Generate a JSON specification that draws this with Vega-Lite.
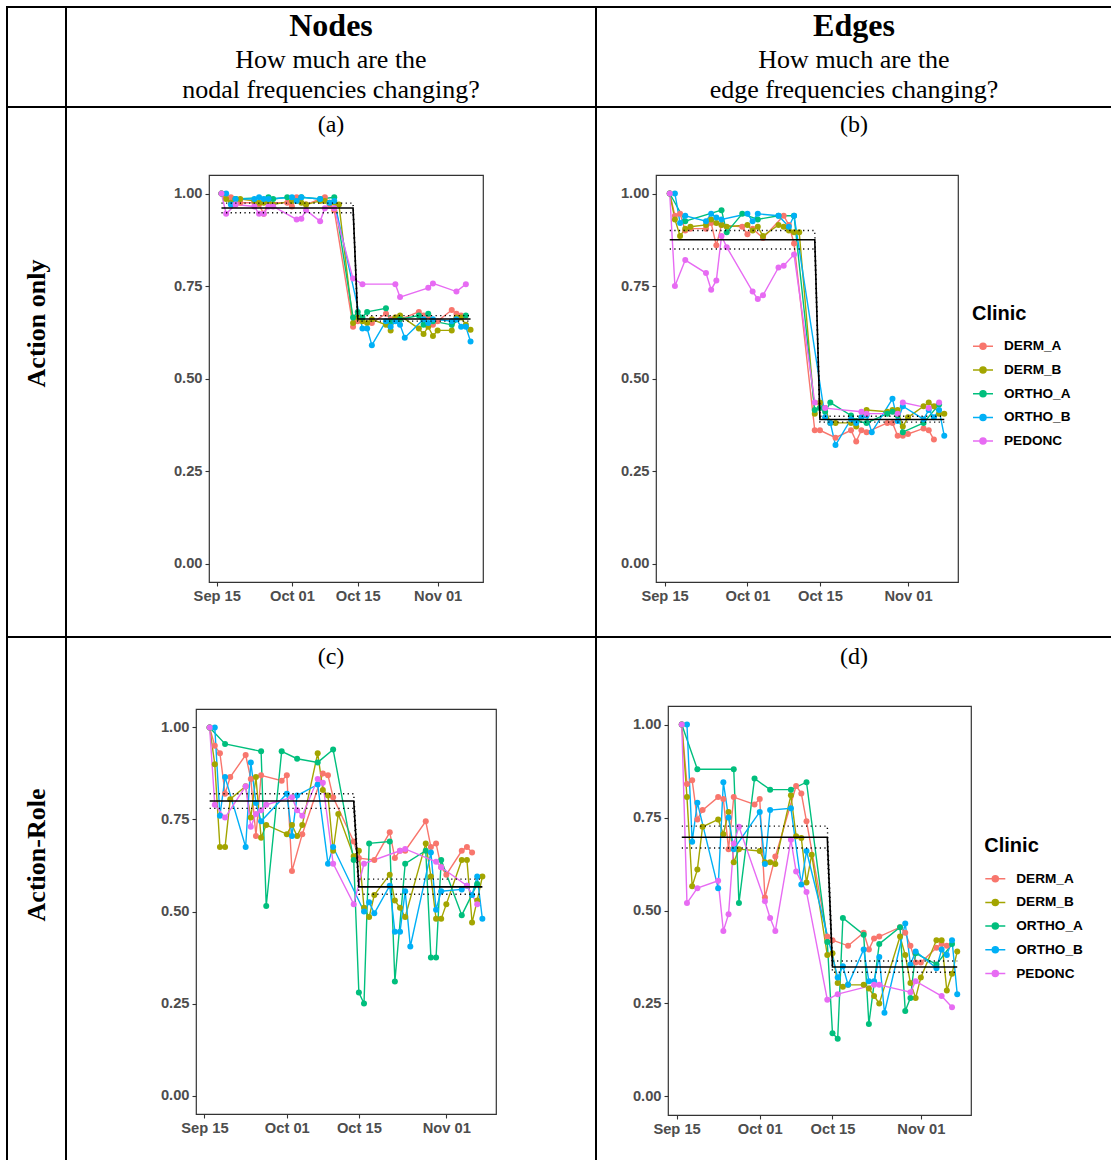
{
"$schema":"https://vega.github.io/schema/vega-lite/v6.json",
"padding":{"left":6,"top":6,"right":0,"bottom":0},
"background":"white",
"config":{"view":{"stroke":null},"concat":{"spacing":0},"font":"Liberation Sans",
 "axis":{"grid":false,"domain":false,"tickColor":"#333333","tickWidth":1.1,"tickSize":4,"labelFont":"Liberation Sans","labelFontSize":14.7,"labelFontWeight":"bold","labelColor":"#4d4d4d"},
 "axisX":{"labelPadding":2,"labelFlush":false,"labelOverlap":false},
 "axisY":{"labelPadding":3}},
"datasets":{
"obs":[
{"clinic":"DERM_A","date":"2019-09-16","nodeAct":1,"edgeAct":1,"nodeRole":1,"edgeRole":1},
{"clinic":"DERM_A","date":"2019-09-17","nodeAct":0.99,"edgeAct":0.94,"nodeRole":0.95,"edgeRole":0.84},
{"clinic":"DERM_A","date":"2019-09-18","nodeAct":0.99,"edgeAct":0.945,"nodeRole":0.93,"edgeRole":0.85},
{"clinic":"DERM_A","date":"2019-09-19","nodeAct":0.97,"edgeAct":0.9,"nodeRole":0.82,"edgeRole":0.745},
{"clinic":"DERM_A","date":"2019-09-20","nodeAct":0.975,"edgeAct":0.905,"nodeRole":0.865,"edgeRole":0.77},
{"clinic":"DERM_A","date":"2019-09-23","nodeAct":0.975,"edgeAct":0.905,"nodeRole":0.925,"edgeRole":0.805},
{"clinic":"DERM_A","date":"2019-09-24","nodeAct":0.97,"edgeAct":0.92,"nodeRole":0.86,"edgeRole":0.8},
{"clinic":"DERM_A","date":"2019-09-25","nodeAct":0.945,"edgeAct":0.86,"nodeRole":0.705,"edgeRole":0.665},
{"clinic":"DERM_A","date":"2019-09-26","nodeAct":0.975,"edgeAct":0.915,"nodeRole":0.87,"edgeRole":0.805},
{"clinic":"DERM_A","date":"2019-09-30","nodeAct":0.975,"edgeAct":0.91,"nodeRole":0.855,"edgeRole":0.785},
{"clinic":"DERM_A","date":"2019-10-01","nodeAct":0.965,"edgeAct":0.89,"nodeRole":0.87,"edgeRole":0.8},
{"clinic":"DERM_A","date":"2019-10-02","nodeAct":0.99,"edgeAct":0.905,"nodeRole":0.61,"edgeRole":0.535},
{"clinic":"DERM_A","date":"2019-10-04","nodeAct":0.97,"edgeAct":0.88,"nodeRole":0.71,"edgeRole":0.645},
{"clinic":"DERM_A","date":"2019-10-08","nodeAct":0.99,"edgeAct":0.94,"nodeRole":0.875,"edgeRole":0.835},
{"clinic":"DERM_A","date":"2019-10-09","nodeAct":0.97,"edgeAct":0.915,"nodeRole":0.87,"edgeRole":0.815},
{"clinic":"DERM_A","date":"2019-10-10","nodeAct":0.955,"edgeAct":0.865,"nodeRole":0.81,"edgeRole":0.74},
{"clinic":"DERM_A","date":"2019-10-14","nodeAct":0.64,"edgeAct":0.36,"nodeRole":0.69,"edgeRole":0.43},
{"clinic":"DERM_A","date":"2019-10-15","nodeAct":0.655,"edgeAct":0.36,"nodeRole":0.645,"edgeRole":0.42},
{"clinic":"DERM_A","date":"2019-10-18","nodeAct":0.65,"edgeAct":0.34,"nodeRole":0.64,"edgeRole":0.405},
{"clinic":"DERM_A","date":"2019-10-21","nodeAct":0.675,"edgeAct":0.36,"nodeRole":0.715,"edgeRole":0.44},
{"clinic":"DERM_A","date":"2019-10-22","nodeAct":0.66,"edgeAct":0.33,"nodeRole":0.645,"edgeRole":0.395},
{"clinic":"DERM_A","date":"2019-10-23","nodeAct":0.665,"edgeAct":0.36,"nodeRole":0.665,"edgeRole":0.425},
{"clinic":"DERM_A","date":"2019-10-24","nodeAct":0.66,"edgeAct":0.355,"nodeRole":0.665,"edgeRole":0.43},
{"clinic":"DERM_A","date":"2019-10-28","nodeAct":0.68,"edgeAct":0.38,"nodeRole":0.745,"edgeRole":0.455},
{"clinic":"DERM_A","date":"2019-10-29","nodeAct":0.67,"edgeAct":0.38,"nodeRole":0.675,"edgeRole":0.44},
{"clinic":"DERM_A","date":"2019-10-30","nodeAct":0.67,"edgeAct":0.345,"nodeRole":0.685,"edgeRole":0.405},
{"clinic":"DERM_A","date":"2019-10-31","nodeAct":0.645,"edgeAct":0.345,"nodeRole":0.62,"edgeRole":0.36},
{"clinic":"DERM_A","date":"2019-11-01","nodeAct":0.655,"edgeAct":0.35,"nodeRole":0.6,"edgeRole":0.36},
{"clinic":"DERM_A","date":"2019-11-04","nodeAct":0.685,"edgeAct":0.365,"nodeRole":0.665,"edgeRole":0.4},
{"clinic":"DERM_A","date":"2019-11-05","nodeAct":0.675,"edgeAct":0.36,"nodeRole":0.675,"edgeRole":0.41},
{"clinic":"DERM_A","date":"2019-11-06","nodeAct":0.67,"edgeAct":0.335,"nodeRole":0.66,"edgeRole":0.405},
{"clinic":"DERM_B","date":"2019-09-16","nodeAct":1,"edgeAct":1,"nodeRole":1,"edgeRole":1},
{"clinic":"DERM_B","date":"2019-09-17","nodeAct":0.985,"edgeAct":0.93,"nodeRole":0.9,"edgeRole":0.805},
{"clinic":"DERM_B","date":"2019-09-18","nodeAct":0.975,"edgeAct":0.885,"nodeRole":0.675,"edgeRole":0.565},
{"clinic":"DERM_B","date":"2019-09-19","nodeAct":0.985,"edgeAct":0.905,"nodeRole":0.675,"edgeRole":0.61},
{"clinic":"DERM_B","date":"2019-09-20","nodeAct":0.985,"edgeAct":0.91,"nodeRole":0.805,"edgeRole":0.725},
{"clinic":"DERM_B","date":"2019-09-23","nodeAct":0.98,"edgeAct":0.915,"nodeRole":0.84,"edgeRole":0.745},
{"clinic":"DERM_B","date":"2019-09-24","nodeAct":0.975,"edgeAct":0.93,"nodeRole":0.755,"edgeRole":0.705},
{"clinic":"DERM_B","date":"2019-09-25","nodeAct":0.975,"edgeAct":0.92,"nodeRole":0.865,"edgeRole":0.765},
{"clinic":"DERM_B","date":"2019-09-26","nodeAct":0.975,"edgeAct":0.915,"nodeRole":0.7,"edgeRole":0.63},
{"clinic":"DERM_B","date":"2019-09-27","nodeAct":0.97,"edgeAct":0.91,"nodeRole":0.735,"edgeRole":0.665},
{"clinic":"DERM_B","date":"2019-10-01","nodeAct":0.98,"edgeAct":0.915,"nodeRole":0.71,"edgeRole":0.66},
{"clinic":"DERM_B","date":"2019-10-02","nodeAct":0.98,"edgeAct":0.9,"nodeRole":0.735,"edgeRole":0.63},
{"clinic":"DERM_B","date":"2019-10-03","nodeAct":0.975,"edgeAct":0.91,"nodeRole":0.705,"edgeRole":0.63},
{"clinic":"DERM_B","date":"2019-10-04","nodeAct":0.97,"edgeAct":0.885,"nodeRole":0.735,"edgeRole":0.625},
{"clinic":"DERM_B","date":"2019-10-07","nodeAct":0.98,"edgeAct":0.915,"nodeRole":0.93,"edgeRole":0.81},
{"clinic":"DERM_B","date":"2019-10-08","nodeAct":0.98,"edgeAct":0.91,"nodeRole":0.83,"edgeRole":0.7},
{"clinic":"DERM_B","date":"2019-10-09","nodeAct":0.975,"edgeAct":0.9,"nodeRole":0.815,"edgeRole":0.695},
{"clinic":"DERM_B","date":"2019-10-10","nodeAct":0.975,"edgeAct":0.895,"nodeRole":0.665,"edgeRole":0.575},
{"clinic":"DERM_B","date":"2019-10-11","nodeAct":0.97,"edgeAct":0.895,"nodeRole":0.765,"edgeRole":0.65},
{"clinic":"DERM_B","date":"2019-10-14","nodeAct":0.65,"edgeAct":0.405,"nodeRole":0.65,"edgeRole":0.38},
{"clinic":"DERM_B","date":"2019-10-15","nodeAct":0.665,"edgeAct":0.435,"nodeRole":0.665,"edgeRole":0.385},
{"clinic":"DERM_B","date":"2019-10-16","nodeAct":0.655,"edgeAct":0.42,"nodeRole":0.51,"edgeRole":0.305},
{"clinic":"DERM_B","date":"2019-10-17","nodeAct":0.65,"edgeAct":0.38,"nodeRole":0.485,"edgeRole":0.295},
{"clinic":"DERM_B","date":"2019-10-18","nodeAct":0.66,"edgeAct":0.38,"nodeRole":0.545,"edgeRole":0.3},
{"clinic":"DERM_B","date":"2019-10-21","nodeAct":0.645,"edgeAct":0.38,"nodeRole":0.6,"edgeRole":0.3},
{"clinic":"DERM_B","date":"2019-10-22","nodeAct":0.63,"edgeAct":0.37,"nodeRole":0.53,"edgeRole":0.29},
{"clinic":"DERM_B","date":"2019-10-23","nodeAct":0.665,"edgeAct":0.395,"nodeRole":0.51,"edgeRole":0.27},
{"clinic":"DERM_B","date":"2019-10-24","nodeAct":0.67,"edgeAct":0.415,"nodeRole":0.485,"edgeRole":0.25},
{"clinic":"DERM_B","date":"2019-10-28","nodeAct":0.635,"edgeAct":0.41,"nodeRole":0.685,"edgeRole":0.43},
{"clinic":"DERM_B","date":"2019-10-29","nodeAct":0.62,"edgeAct":0.415,"nodeRole":0.595,"edgeRole":0.38},
{"clinic":"DERM_B","date":"2019-10-30","nodeAct":0.64,"edgeAct":0.415,"nodeRole":0.48,"edgeRole":0.305},
{"clinic":"DERM_B","date":"2019-10-31","nodeAct":0.615,"edgeAct":0.37,"nodeRole":0.48,"edgeRole":0.265},
{"clinic":"DERM_B","date":"2019-11-01","nodeAct":0.63,"edgeAct":0.395,"nodeRole":0.52,"edgeRole":0.32},
{"clinic":"DERM_B","date":"2019-11-04","nodeAct":0.63,"edgeAct":0.425,"nodeRole":0.64,"edgeRole":0.42},
{"clinic":"DERM_B","date":"2019-11-05","nodeAct":0.665,"edgeAct":0.435,"nodeRole":0.64,"edgeRole":0.42},
{"clinic":"DERM_B","date":"2019-11-06","nodeAct":0.665,"edgeAct":0.425,"nodeRole":0.47,"edgeRole":0.285},
{"clinic":"DERM_B","date":"2019-11-07","nodeAct":0.645,"edgeAct":0.405,"nodeRole":0.53,"edgeRole":0.33},
{"clinic":"DERM_B","date":"2019-11-08","nodeAct":0.632,"edgeAct":0.405,"nodeRole":0.595,"edgeRole":0.39},
{"clinic":"ORTHO_A","date":"2019-09-16","nodeAct":1,"edgeAct":1,"nodeRole":1,"edgeRole":1},
{"clinic":"ORTHO_A","date":"2019-09-19","nodeAct":0.985,"edgeAct":0.925,"nodeRole":0.955,"edgeRole":0.88},
{"clinic":"ORTHO_A","date":"2019-09-26","nodeAct":0.99,"edgeAct":0.955,"nodeRole":0.935,"edgeRole":0.88},
{"clinic":"ORTHO_A","date":"2019-09-27","nodeAct":0.985,"edgeAct":0.895,"nodeRole":0.515,"edgeRole":0.52},
{"clinic":"ORTHO_A","date":"2019-09-30","nodeAct":0.99,"edgeAct":0.945,"nodeRole":0.935,"edgeRole":0.855},
{"clinic":"ORTHO_A","date":"2019-10-03","nodeAct":0.99,"edgeAct":0.93,"nodeRole":0.915,"edgeRole":0.825},
{"clinic":"ORTHO_A","date":"2019-10-07","nodeAct":0.985,"edgeAct":0.94,"nodeRole":0.905,"edgeRole":0.825},
{"clinic":"ORTHO_A","date":"2019-10-10","nodeAct":0.99,"edgeAct":0.94,"nodeRole":0.94,"edgeRole":0.845},
{"clinic":"ORTHO_A","date":"2019-10-14","nodeAct":0.665,"edgeAct":0.415,"nodeRole":0.64,"edgeRole":0.415},
{"clinic":"ORTHO_A","date":"2019-10-15","nodeAct":0.68,"edgeAct":0.42,"nodeRole":0.28,"edgeRole":0.17},
{"clinic":"ORTHO_A","date":"2019-10-16","nodeAct":0.665,"edgeAct":0.41,"nodeRole":0.25,"edgeRole":0.155},
{"clinic":"ORTHO_A","date":"2019-10-17","nodeAct":0.68,"edgeAct":0.435,"nodeRole":0.685,"edgeRole":0.48},
{"clinic":"ORTHO_A","date":"2019-10-21","nodeAct":0.69,"edgeAct":0.4,"nodeRole":0.69,"edgeRole":0.435},
{"clinic":"ORTHO_A","date":"2019-10-22","nodeAct":0.655,"edgeAct":0.385,"nodeRole":0.31,"edgeRole":0.195},
{"clinic":"ORTHO_A","date":"2019-10-24","nodeAct":0.66,"edgeAct":0.38,"nodeRole":0.63,"edgeRole":0.41},
{"clinic":"ORTHO_A","date":"2019-10-28","nodeAct":0.67,"edgeAct":0.405,"nodeRole":0.665,"edgeRole":0.455},
{"clinic":"ORTHO_A","date":"2019-10-29","nodeAct":0.645,"edgeAct":0.41,"nodeRole":0.375,"edgeRole":0.23},
{"clinic":"ORTHO_A","date":"2019-10-30","nodeAct":0.675,"edgeAct":0.4,"nodeRole":0.375,"edgeRole":0.265},
{"clinic":"ORTHO_A","date":"2019-10-31","nodeAct":0.655,"edgeAct":0.355,"nodeRole":0.64,"edgeRole":0.385},
{"clinic":"ORTHO_A","date":"2019-11-04","nodeAct":0.645,"edgeAct":0.38,"nodeRole":0.49,"edgeRole":0.355},
{"clinic":"ORTHO_A","date":"2019-11-07","nodeAct":0.67,"edgeAct":0.43,"nodeRole":0.575,"edgeRole":0.41},
{"clinic":"ORTHO_B","date":"2019-09-17","nodeAct":1,"edgeAct":1,"nodeRole":1,"edgeRole":1},
{"clinic":"ORTHO_B","date":"2019-09-18","nodeAct":0.97,"edgeAct":0.92,"nodeRole":0.76,"edgeRole":0.685},
{"clinic":"ORTHO_B","date":"2019-09-19","nodeAct":0.985,"edgeAct":0.94,"nodeRole":0.865,"edgeRole":0.79},
{"clinic":"ORTHO_B","date":"2019-09-23","nodeAct":0.985,"edgeAct":0.925,"nodeRole":0.675,"edgeRole":0.56},
{"clinic":"ORTHO_B","date":"2019-09-24","nodeAct":0.99,"edgeAct":0.945,"nodeRole":0.905,"edgeRole":0.845},
{"clinic":"ORTHO_B","date":"2019-09-25","nodeAct":0.985,"edgeAct":0.935,"nodeRole":0.795,"edgeRole":0.75},
{"clinic":"ORTHO_B","date":"2019-09-26","nodeAct":0.985,"edgeAct":0.93,"nodeRole":0.745,"edgeRole":0.665},
{"clinic":"ORTHO_B","date":"2019-10-01","nodeAct":0.99,"edgeAct":0.945,"nodeRole":0.82,"edgeRole":0.765},
{"clinic":"ORTHO_B","date":"2019-10-02","nodeAct":0.98,"edgeAct":0.925,"nodeRole":0.705,"edgeRole":0.625},
{"clinic":"ORTHO_B","date":"2019-10-03","nodeAct":0.99,"edgeAct":0.945,"nodeRole":0.815,"edgeRole":0.77},
{"clinic":"ORTHO_B","date":"2019-10-07","nodeAct":0.985,"edgeAct":0.94,"nodeRole":0.845,"edgeRole":0.775},
{"clinic":"ORTHO_B","date":"2019-10-09","nodeAct":0.975,"edgeAct":0.91,"nodeRole":0.63,"edgeRole":0.57},
{"clinic":"ORTHO_B","date":"2019-10-10","nodeAct":0.98,"edgeAct":0.94,"nodeRole":0.675,"edgeRole":0.66},
{"clinic":"ORTHO_B","date":"2019-10-16","nodeAct":0.635,"edgeAct":0.395,"nodeRole":0.5,"edgeRole":0.32},
{"clinic":"ORTHO_B","date":"2019-10-17","nodeAct":0.635,"edgeAct":0.38,"nodeRole":0.525,"edgeRole":0.35},
{"clinic":"ORTHO_B","date":"2019-10-18","nodeAct":0.59,"edgeAct":0.32,"nodeRole":0.495,"edgeRole":0.3},
{"clinic":"ORTHO_B","date":"2019-10-21","nodeAct":0.655,"edgeAct":0.39,"nodeRole":0.57,"edgeRole":0.395},
{"clinic":"ORTHO_B","date":"2019-10-22","nodeAct":0.64,"edgeAct":0.38,"nodeRole":0.445,"edgeRole":0.31},
{"clinic":"ORTHO_B","date":"2019-10-23","nodeAct":0.655,"edgeAct":0.395,"nodeRole":0.445,"edgeRole":0.31},
{"clinic":"ORTHO_B","date":"2019-10-24","nodeAct":0.645,"edgeAct":0.4,"nodeRole":0.555,"edgeRole":0.375},
{"clinic":"ORTHO_B","date":"2019-10-25","nodeAct":0.61,"edgeAct":0.355,"nodeRole":0.405,"edgeRole":0.225},
{"clinic":"ORTHO_B","date":"2019-10-29","nodeAct":0.66,"edgeAct":0.445,"nodeRole":0.66,"edgeRole":0.465},
{"clinic":"ORTHO_B","date":"2019-10-30","nodeAct":0.65,"edgeAct":0.385,"nodeRole":0.505,"edgeRole":0.355},
{"clinic":"ORTHO_B","date":"2019-10-31","nodeAct":0.66,"edgeAct":0.425,"nodeRole":0.555,"edgeRole":0.39},
{"clinic":"ORTHO_B","date":"2019-11-04","nodeAct":0.655,"edgeAct":0.39,"nodeRole":0.56,"edgeRole":0.345},
{"clinic":"ORTHO_B","date":"2019-11-05","nodeAct":0.66,"edgeAct":0.415,"nodeRole":0.57,"edgeRole":0.395},
{"clinic":"ORTHO_B","date":"2019-11-06","nodeAct":0.64,"edgeAct":0.395,"nodeRole":0.545,"edgeRole":0.38},
{"clinic":"ORTHO_B","date":"2019-11-07","nodeAct":0.64,"edgeAct":0.415,"nodeRole":0.595,"edgeRole":0.42},
{"clinic":"ORTHO_B","date":"2019-11-08","nodeAct":0.6,"edgeAct":0.345,"nodeRole":0.48,"edgeRole":0.275},
{"clinic":"PEDONC","date":"2019-09-16","nodeAct":1,"edgeAct":1,"nodeRole":1,"edgeRole":1},
{"clinic":"PEDONC","date":"2019-09-17","nodeAct":0.945,"edgeAct":0.75,"nodeRole":0.79,"edgeRole":0.52},
{"clinic":"PEDONC","date":"2019-09-19","nodeAct":0.97,"edgeAct":0.82,"nodeRole":0.755,"edgeRole":0.56},
{"clinic":"PEDONC","date":"2019-09-23","nodeAct":0.965,"edgeAct":0.785,"nodeRole":0.84,"edgeRole":0.58},
{"clinic":"PEDONC","date":"2019-09-24","nodeAct":0.945,"edgeAct":0.74,"nodeRole":0.73,"edgeRole":0.445},
{"clinic":"PEDONC","date":"2019-09-25","nodeAct":0.945,"edgeAct":0.765,"nodeRole":0.765,"edgeRole":0.49},
{"clinic":"PEDONC","date":"2019-09-26","nodeAct":0.965,"edgeAct":0.885,"nodeRole":0.775,"edgeRole":0.68},
{"clinic":"PEDONC","date":"2019-09-27","nodeAct":0.965,"edgeAct":0.855,"nodeRole":0.79,"edgeRole":0.725},
{"clinic":"PEDONC","date":"2019-10-02","nodeAct":0.93,"edgeAct":0.735,"nodeRole":0.81,"edgeRole":0.525},
{"clinic":"PEDONC","date":"2019-10-03","nodeAct":0.932,"edgeAct":0.715,"nodeRole":0.775,"edgeRole":0.48},
{"clinic":"PEDONC","date":"2019-10-04","nodeAct":0.955,"edgeAct":0.725,"nodeRole":0.76,"edgeRole":0.445},
{"clinic":"PEDONC","date":"2019-10-07","nodeAct":0.925,"edgeAct":0.8,"nodeRole":0.86,"edgeRole":0.69},
{"clinic":"PEDONC","date":"2019-10-08","nodeAct":0.96,"edgeAct":0.805,"nodeRole":0.85,"edgeRole":0.605},
{"clinic":"PEDONC","date":"2019-10-10","nodeAct":0.96,"edgeAct":0.835,"nodeRole":0.63,"edgeRole":0.55},
{"clinic":"PEDONC","date":"2019-10-14","nodeAct":0.77,"edgeAct":0.435,"nodeRole":0.52,"edgeRole":0.26},
{"clinic":"PEDONC","date":"2019-10-16","nodeAct":0.755,"edgeAct":0.42,"nodeRole":0.63,"edgeRole":0.275},
{"clinic":"PEDONC","date":"2019-10-23","nodeAct":0.755,"edgeAct":0.41,"nodeRole":0.665,"edgeRole":0.3},
{"clinic":"PEDONC","date":"2019-10-24","nodeAct":0.72,"edgeAct":0.405,"nodeRole":0.67,"edgeRole":0.3},
{"clinic":"PEDONC","date":"2019-10-30","nodeAct":0.745,"edgeAct":0.405,"nodeRole":0.635,"edgeRole":0.28},
{"clinic":"PEDONC","date":"2019-10-31","nodeAct":0.757,"edgeAct":0.435,"nodeRole":0.62,"edgeRole":0.31},
{"clinic":"PEDONC","date":"2019-11-05","nodeAct":0.735,"edgeAct":0.42,"nodeRole":0.57,"edgeRole":0.27},
{"clinic":"PEDONC","date":"2019-11-07","nodeAct":0.755,"edgeAct":0.435,"nodeRole":0.52,"edgeRole":0.24}
],
"steps":[
{"band":"mean","date":"2019-09-16","nodeAct":0.961,"edgeAct":0.875,"nodeRole":0.8,"edgeRole":0.697},
{"band":"mean","date":"2019-10-14","nodeAct":0.961,"edgeAct":0.875,"nodeRole":0.8,"edgeRole":0.697},
{"band":"mean","date":"2019-10-15","nodeAct":0.661,"edgeAct":0.389,"nodeRole":0.567,"edgeRole":0.348},
{"band":"mean","date":"2019-11-08","nodeAct":0.661,"edgeAct":0.389,"nodeRole":0.567,"edgeRole":0.348},
{"band":"upper","date":"2019-09-16","nodeAct":0.974,"edgeAct":0.9,"nodeRole":0.82,"edgeRole":0.727},
{"band":"upper","date":"2019-10-14","nodeAct":0.974,"edgeAct":0.9,"nodeRole":0.82,"edgeRole":0.727},
{"band":"upper","date":"2019-10-15","nodeAct":0.67,"edgeAct":0.398,"nodeRole":0.588,"edgeRole":0.364},
{"band":"upper","date":"2019-11-08","nodeAct":0.67,"edgeAct":0.398,"nodeRole":0.588,"edgeRole":0.364},
{"band":"lower","date":"2019-09-16","nodeAct":0.948,"edgeAct":0.85,"nodeRole":0.78,"edgeRole":0.668},
{"band":"lower","date":"2019-10-14","nodeAct":0.948,"edgeAct":0.85,"nodeRole":0.78,"edgeRole":0.668},
{"band":"lower","date":"2019-10-15","nodeAct":0.655,"edgeAct":0.382,"nodeRole":0.547,"edgeRole":0.334},
{"band":"lower","date":"2019-11-08","nodeAct":0.655,"edgeAct":0.382,"nodeRole":0.547,"edgeRole":0.334}
]},
"resolve":{"legend":{"color":"independent"}},
"spacing":0,
"vconcat":[
{"width":1105,"height":2,"data":{"values":[]},"mark":"point","view":{"fill":"black"}},
{"hconcat":[
 {"width":2,"height":98,"data":{"values":[]},"mark":"point","view":{"fill":"black"}},
 {"width":57,"height":98,"data":{"values":[]},"mark":"point"},
 {"width":2,"height":98,"data":{"values":[]},"mark":"point","view":{"fill":"black"}},
 {"width":528,"height":98,"data":{"values":[{}]},"layer":[
   {"mark":{"type":"text","text":"Nodes","font":"Liberation Serif","fontSize":32,"fontWeight":"bold","baseline":"alphabetic","dy":-21,"color":"black"}},
   {"mark":{"type":"text","text":["How much are the","nodal frequencies changing?"],"font":"Liberation Serif","fontSize":26,"lineHeight":30,"baseline":"alphabetic","dy":11.3,"color":"black"}}
 ]},
 {"width":2,"height":98,"data":{"values":[]},"mark":"point","view":{"fill":"black"}},
 {"width":514,"height":98,"data":{"values":[{}]},"layer":[
   {"mark":{"type":"text","text":"Edges","font":"Liberation Serif","fontSize":32,"fontWeight":"bold","baseline":"alphabetic","dy":-21,"color":"black"}},
   {"mark":{"type":"text","text":["How much are the","edge frequencies changing?"],"font":"Liberation Serif","fontSize":26,"lineHeight":30,"baseline":"alphabetic","dy":11.3,"color":"black"}}
 ]}
],"spacing":0},
{"width":1105,"height":2,"data":{"values":[]},"mark":"point","view":{"fill":"black"}},
{"hconcat":[
 {"width":2,"height":528,"data":{"values":[]},"mark":"point","view":{"fill":"black"}},
 {"width":57,"height":528,"data":{"values":[{}]},"mark":{"type":"text","text":"Action only","font":"Liberation Serif","fontSize":26,"fontWeight":"bold","angle":270,"baseline":"alphabetic","dx":48.5,"dy":8.5,"color":"black"}},
 {"width":2,"height":528,"data":{"values":[]},"mark":"point","view":{"fill":"black"}},
 {"vconcat":[
   {"width":528,"height":66,"data":{"values":[{}]},"mark":{"type":"text","text":"(a)","font":"Liberation Serif","fontSize":24,"baseline":"middle","dy":-16,"color":"black"}},
   {"hconcat":[
     {"width":105,"height":1,"data":{"values":[]},"mark":"point"},
     {"width":274,"height":407,"view":{"stroke":"#333333","strokeWidth":1.2},
      "encoding":{
        "x":{"field":"date","type":"temporal","scale":{"type":"utc","domain":[{"year":2019,"month":9,"date":13,"hours":8,"minutes":24,"utc":true},{"year":2019,"month":11,"date":10,"hours":15,"minutes":36,"utc":true}]},"axis":{"title":null,"values":[{"year":2019,"month":9,"date":15,"utc":true},{"year":2019,"month":10,"date":1,"utc":true},{"year":2019,"month":10,"date":15,"utc":true},{"year":2019,"month":11,"date":1,"utc":true}],"format":"%b %d"}},
        "y":{"field":"nodeAct","type":"quantitative","scale":{"domain":[-0.05,1.05],"nice":false,"zero":false},"axis":{"title":null,"values":[0,0.25,0.5,0.75,1],"format":".2f"}}},
      "layer":[
        {"data":{"name":"obs"},"mark":{"type":"line","strokeWidth":1.4},"encoding":{"color":{"field":"clinic","type":"nominal","scale":{"domain":["DERM_A","DERM_B","ORTHO_A","ORTHO_B","PEDONC"],"range":["#F8766D","#A3A500","#00BF7D","#00B0F6","#E76BF3"]},"legend":null}}},
        {"data":{"name":"obs"},"mark":{"type":"point","filled":true,"size":36,"opacity":1},"encoding":{"color":{"field":"clinic","type":"nominal","legend":null}}},
        {"data":{"name":"steps"},"transform":[{"filter":"datum.band == 'mean'"}],"mark":{"type":"line","color":"black","strokeWidth":1.6},"encoding":{}},
        {"data":{"name":"steps"},"transform":[{"filter":"datum.band != 'mean'"}],"mark":{"type":"line","color":"black","strokeWidth":1.4,"strokeDash":[1.2,3.4]},"encoding":{"detail":{"field":"band"}}}
      ]}
   ],"spacing":0,"resolve":{"legend":{"color":"independent"}}}
 ],"spacing":0,"resolve":{"legend":{"color":"independent"}}},
 {"width":2,"height":528,"data":{"values":[]},"mark":"point","view":{"fill":"black"}},
 {"vconcat":[
   {"width":514,"height":66,"data":{"values":[{}]},"mark":{"type":"text","text":"(b)","font":"Liberation Serif","fontSize":24,"baseline":"middle","dy":-16,"color":"black"}},
   {"hconcat":[
     {"width":22,"height":1,"data":{"values":[]},"mark":"point"},
     {"width":302,"height":407,"view":{"stroke":"#333333","strokeWidth":1.2},
      "encoding":{
        "x":{"field":"date","type":"temporal","scale":{"type":"utc","domain":[{"year":2019,"month":9,"date":13,"hours":8,"minutes":24,"utc":true},{"year":2019,"month":11,"date":10,"hours":15,"minutes":36,"utc":true}]},"axis":{"title":null,"values":[{"year":2019,"month":9,"date":15,"utc":true},{"year":2019,"month":10,"date":1,"utc":true},{"year":2019,"month":10,"date":15,"utc":true},{"year":2019,"month":11,"date":1,"utc":true}],"format":"%b %d"}},
        "y":{"field":"edgeAct","type":"quantitative","scale":{"domain":[-0.05,1.05],"nice":false,"zero":false},"axis":{"title":null,"values":[0,0.25,0.5,0.75,1],"format":".2f"}}},
      "layer":[
        {"data":{"name":"obs"},"mark":{"type":"line","strokeWidth":1.4},"encoding":{"color":{"field":"clinic","type":"nominal","scale":{"domain":["DERM_A","DERM_B","ORTHO_A","ORTHO_B","PEDONC"],"range":["#F8766D","#A3A500","#00BF7D","#00B0F6","#E76BF3"]},
          "legend":{"title":"Clinic","orient":"none","legendX":316,"legendY":128.6,"padding":0,"titleFont":"Liberation Sans","titleFontSize":20,"titleFontWeight":"bold","titleColor":"black","titlePadding":11.7,"titleAnchor":"start","labelFont":"Liberation Sans","labelFontSize":13.6,"labelFontWeight":"bold","labelColor":"black","labelOffset":10,"symbolType":"M-1,0H1M-0.3,0A0.3,0.3,0,1,0,0.3,0A0.3,0.3,0,1,0,-0.3,0","symbolSize":400,"symbolStrokeWidth":1.5,"rowPadding":5.7,
            "encode":{"symbols":{"update":{"fill":{"signal":"{'DERM_A':'#F8766D','DERM_B':'#A3A500','ORTHO_A':'#00BF7D','ORTHO_B':'#00B0F6','PEDONC':'#E76BF3'}[datum.value]"},"stroke":{"signal":"{'DERM_A':'#F8766D','DERM_B':'#A3A500','ORTHO_A':'#00BF7D','ORTHO_B':'#00B0F6','PEDONC':'#E76BF3'}[datum.value]"},"opacity":{"value":1}}}}}}}},
        {"data":{"name":"obs"},"mark":{"type":"point","filled":true,"size":36,"opacity":1},"encoding":{"color":{"field":"clinic","type":"nominal"}}},
        {"data":{"name":"steps"},"transform":[{"filter":"datum.band == 'mean'"}],"mark":{"type":"line","color":"black","strokeWidth":1.6},"encoding":{}},
        {"data":{"name":"steps"},"transform":[{"filter":"datum.band != 'mean'"}],"mark":{"type":"line","color":"black","strokeWidth":1.4,"strokeDash":[1.2,3.4]},"encoding":{"detail":{"field":"band"}}}
      ]}
   ],"spacing":0,"resolve":{"legend":{"color":"independent"}}}
 ],"spacing":0,"resolve":{"legend":{"color":"independent"}}}
],"spacing":0,"resolve":{"legend":{"color":"independent"}}},
{"width":1105,"height":2,"data":{"values":[]},"mark":"point","view":{"fill":"black"}},
{"hconcat":[
 {"width":2,"height":522,"data":{"values":[]},"mark":"point","view":{"fill":"black"}},
 {"width":57,"height":522,"data":{"values":[{}]},"mark":{"type":"text","text":"Action-Role","font":"Liberation Serif","fontSize":26,"fontWeight":"bold","angle":270,"baseline":"alphabetic","dx":44,"dy":8.5,"color":"black"}},
 {"width":2,"height":522,"data":{"values":[]},"mark":"point","view":{"fill":"black"}},
 {"vconcat":[
   {"width":528,"height":70,"data":{"values":[{}]},"mark":{"type":"text","text":"(c)","font":"Liberation Serif","fontSize":24,"baseline":"middle","dy":-16.5,"color":"black"}},
   {"hconcat":[
     {"width":92,"height":1,"data":{"values":[]},"mark":"point"},
     {"width":300,"height":405,"view":{"stroke":"#333333","strokeWidth":1.2},
      "encoding":{
        "x":{"field":"date","type":"temporal","scale":{"type":"utc","domain":[{"year":2019,"month":9,"date":13,"hours":8,"minutes":24,"utc":true},{"year":2019,"month":11,"date":10,"hours":15,"minutes":36,"utc":true}]},"axis":{"title":null,"values":[{"year":2019,"month":9,"date":15,"utc":true},{"year":2019,"month":10,"date":1,"utc":true},{"year":2019,"month":10,"date":15,"utc":true},{"year":2019,"month":11,"date":1,"utc":true}],"format":"%b %d"}},
        "y":{"field":"nodeRole","type":"quantitative","scale":{"domain":[-0.05,1.05],"nice":false,"zero":false},"axis":{"title":null,"values":[0,0.25,0.5,0.75,1],"format":".2f"}}},
      "layer":[
        {"data":{"name":"obs"},"mark":{"type":"line","strokeWidth":1.4},"encoding":{"color":{"field":"clinic","type":"nominal","scale":{"domain":["DERM_A","DERM_B","ORTHO_A","ORTHO_B","PEDONC"],"range":["#F8766D","#A3A500","#00BF7D","#00B0F6","#E76BF3"]},"legend":null}}},
        {"data":{"name":"obs"},"mark":{"type":"point","filled":true,"size":36,"opacity":1},"encoding":{"color":{"field":"clinic","type":"nominal","legend":null}}},
        {"data":{"name":"steps"},"transform":[{"filter":"datum.band == 'mean'"}],"mark":{"type":"line","color":"black","strokeWidth":1.6},"encoding":{}},
        {"data":{"name":"steps"},"transform":[{"filter":"datum.band != 'mean'"}],"mark":{"type":"line","color":"black","strokeWidth":1.4,"strokeDash":[1.2,3.4]},"encoding":{"detail":{"field":"band"}}}
      ]}
   ],"spacing":0,"resolve":{"legend":{"color":"independent"}}}
 ],"spacing":0,"resolve":{"legend":{"color":"independent"}}},
 {"width":2,"height":522,"data":{"values":[]},"mark":"point","view":{"fill":"black"}},
 {"vconcat":[
   {"width":514,"height":67,"data":{"values":[{}]},"mark":{"type":"text","text":"(d)","font":"Liberation Serif","fontSize":24,"baseline":"middle","dy":-15,"color":"black"}},
   {"hconcat":[
     {"width":34,"height":1,"data":{"values":[]},"mark":"point"},
     {"width":303,"height":409,"view":{"stroke":"#333333","strokeWidth":1.2},
      "encoding":{
        "x":{"field":"date","type":"temporal","scale":{"type":"utc","domain":[{"year":2019,"month":9,"date":13,"hours":8,"minutes":24,"utc":true},{"year":2019,"month":11,"date":10,"hours":15,"minutes":36,"utc":true}]},"axis":{"title":null,"values":[{"year":2019,"month":9,"date":15,"utc":true},{"year":2019,"month":10,"date":1,"utc":true},{"year":2019,"month":10,"date":15,"utc":true},{"year":2019,"month":11,"date":1,"utc":true}],"format":"%b %d"}},
        "y":{"field":"edgeRole","type":"quantitative","scale":{"domain":[-0.05,1.05],"nice":false,"zero":false},"axis":{"title":null,"values":[0,0.25,0.5,0.75,1],"format":".2f"}}},
      "layer":[
        {"data":{"name":"obs"},"mark":{"type":"line","strokeWidth":1.4},"encoding":{"color":{"field":"clinic","type":"nominal","scale":{"domain":["DERM_A","DERM_B","ORTHO_A","ORTHO_B","PEDONC"],"range":["#F8766D","#A3A500","#00BF7D","#00B0F6","#E76BF3"]},
          "legend":{"title":"Clinic","orient":"none","legendX":316.3,"legendY":130,"padding":0,"titleFont":"Liberation Sans","titleFontSize":20,"titleFontWeight":"bold","titleColor":"black","titlePadding":11.7,"titleAnchor":"start","labelFont":"Liberation Sans","labelFontSize":13.6,"labelFontWeight":"bold","labelColor":"black","labelOffset":10,"symbolType":"M-1,0H1M-0.3,0A0.3,0.3,0,1,0,0.3,0A0.3,0.3,0,1,0,-0.3,0","symbolSize":400,"symbolStrokeWidth":1.5,"rowPadding":5.7,
            "encode":{"symbols":{"update":{"fill":{"signal":"{'DERM_A':'#F8766D','DERM_B':'#A3A500','ORTHO_A':'#00BF7D','ORTHO_B':'#00B0F6','PEDONC':'#E76BF3'}[datum.value]"},"stroke":{"signal":"{'DERM_A':'#F8766D','DERM_B':'#A3A500','ORTHO_A':'#00BF7D','ORTHO_B':'#00B0F6','PEDONC':'#E76BF3'}[datum.value]"},"opacity":{"value":1}}}}}}}},
        {"data":{"name":"obs"},"mark":{"type":"point","filled":true,"size":36,"opacity":1},"encoding":{"color":{"field":"clinic","type":"nominal"}}},
        {"data":{"name":"steps"},"transform":[{"filter":"datum.band == 'mean'"}],"mark":{"type":"line","color":"black","strokeWidth":1.6},"encoding":{}},
        {"data":{"name":"steps"},"transform":[{"filter":"datum.band != 'mean'"}],"mark":{"type":"line","color":"black","strokeWidth":1.4,"strokeDash":[1.2,3.4]},"encoding":{"detail":{"field":"band"}}}
      ]}
   ],"spacing":0,"resolve":{"legend":{"color":"independent"}}}
 ],"spacing":0,"resolve":{"legend":{"color":"independent"}}}
],"spacing":0,"resolve":{"legend":{"color":"independent"}}}
]
}
